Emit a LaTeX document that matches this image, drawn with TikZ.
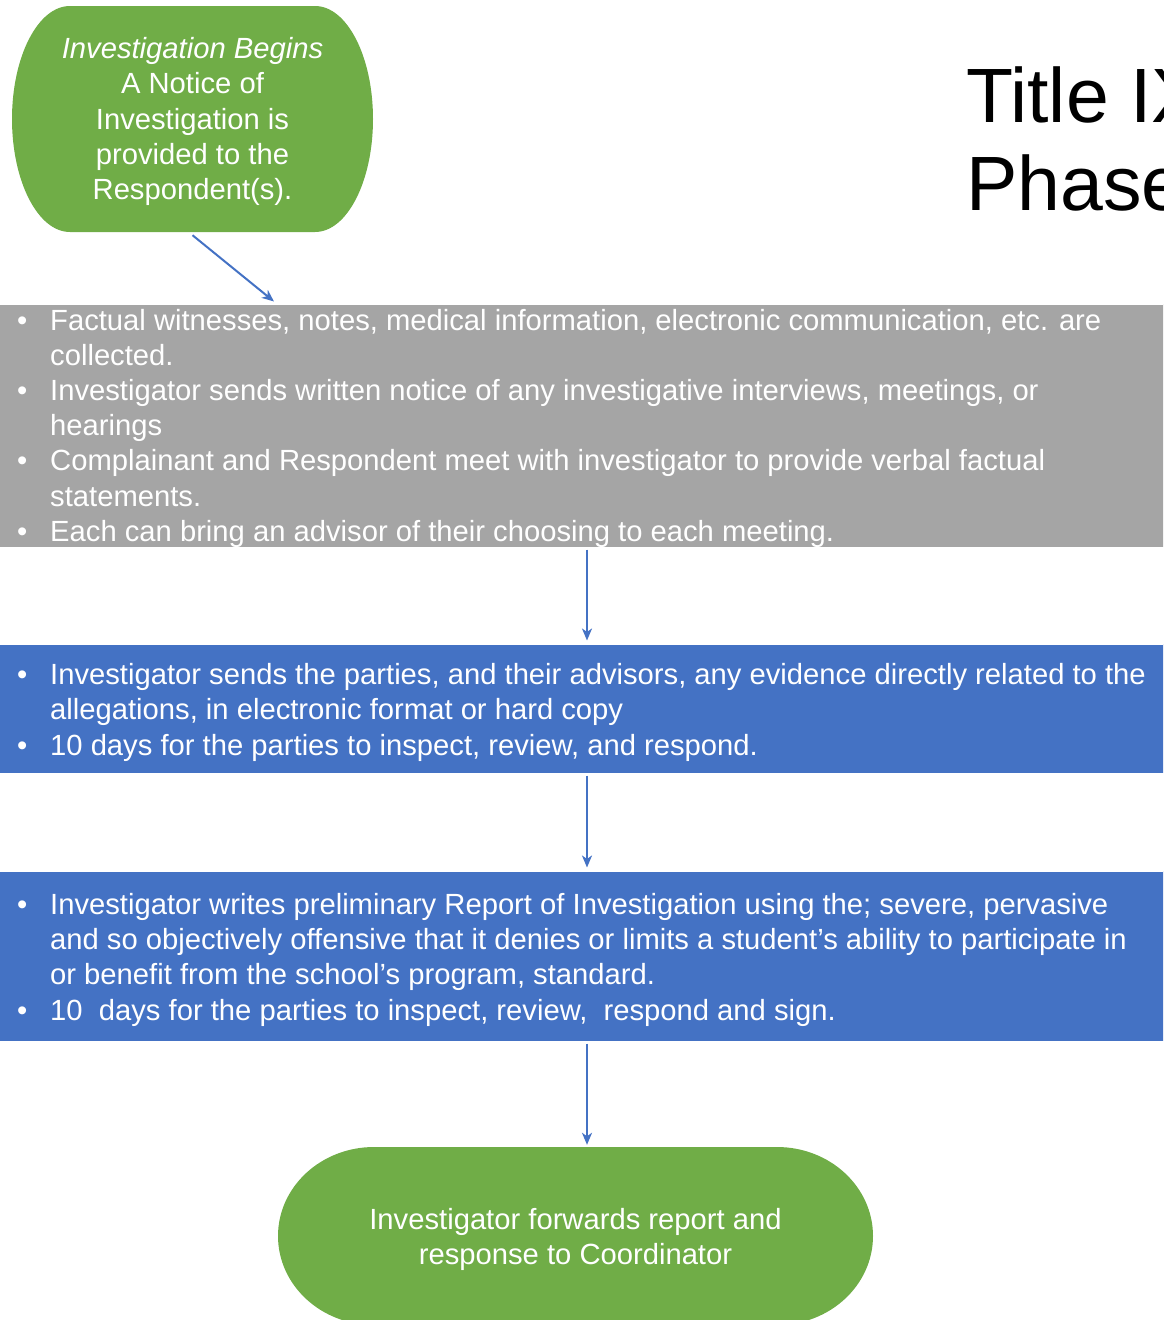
\documentclass[tikz,border=0pt]{standalone}
\usepackage{fontspec}
\setmainfont{Liberation Sans}
\usetikzlibrary{arrows.meta,calc}
\definecolor{pgreen}{HTML}{70AD47}
\definecolor{pblue}{HTML}{4472C4}
\definecolor{pgray}{HTML}{A5A5A5}
\newcommand\bodyfont{\fontsize{29.2}{35}\selectfont}
\newcommand\titlefont{\fontsize{77}{88}\selectfont}
\tikzset{
  termbox/.style n args={3}{minimum width=#1, minimum height=#2, inner sep=0pt, draw=none,
    path picture={
      \fill[pgreen] ($(path picture bounding box.north west)+(#3,0)$)
        -- ($(path picture bounding box.north east)+(-#3,0)$)
        arc[start angle=90,end angle=-90,x radius=#3 pt,y radius=0.5*#2]
        -- ($(path picture bounding box.south west)+(#3,0)$)
        arc[start angle=270,end angle=90,x radius=#3 pt,y radius=0.5*#2]
        -- cycle;}},
  band/.style={fill=#1, draw=white, line width=1pt, minimum width=1172pt, inner sep=0pt},
  ln/.style={anchor=base west, inner sep=0pt, text=white, font=\bodyfont},
  cln/.style={anchor=base, inner sep=0pt, text=white, font=\bodyfont},
  bul/.style={anchor=base west, inner sep=0pt, text=white, font=\bodyfont},
  arr/.style={draw=pblue, line width=2pt, -{Stealth[length=12pt,width=10pt,inset=3.5pt]}},
  ttl/.style={anchor=base west, inner sep=0pt, text=black, font=\titlefont}
}
\begin{document}
\begin{tikzpicture}[x=1pt,y=-1pt]
\useasboundingbox (0,0) rectangle (1163,1320);
\clip (0,0) rectangle (1163,1320);

% title
\node[ttl] (t1) at (966,122) {Title IX};
\node[ttl] (t2) at (966,210) {Phase};

% top terminator
\node[termbox={361pt}{226pt}{58}] (g1) at (192.5,119) {};
\node[cln] (g1a) at (192.5,58) {\itshape Investigation Begins};
\node[cln] (g1b) at (192.5,93) {A Notice of};
\node[cln] (g1c) at (192.5,129) {Investigation is};
\node[cln] (g1d) at (192.5,164) {provided to the};
\node[cln] (g1e) at (192.5,199) {Respondent(s).};

% gray band
\node[band=pgray, minimum height=243pt] (b1) at (584,425.5) {};
\node[bul] (b1p1) at (17,330) {•};
\node[ln] (b1l1) at (50,330) {Factual witnesses, notes, medical information, electronic communication, etc. are};
\node[ln] (b1l2) at (50,365.2) {collected.};
\node[bul] (b1p2) at (17,400.4) {•};
\node[ln] (b1l3) at (50,400.4) {Investigator sends written notice of any investigative interviews, meetings, or};
\node[ln] (b1l4) at (50,435.6) {hearings};
\node[bul] (b1p3) at (17,470.8) {•};
\node[ln] (b1l5) at (50,470.8) {Complainant and Respondent meet with investigator to provide verbal factual};
\node[ln] (b1l6) at (50,506) {statements.};
\node[bul] (b1p4) at (17,541.2) {•};
\node[ln] (b1l7) at (50,541.2) {Each can bring an advisor of their choosing to each meeting.};

% blue band 1
\node[band=pblue, minimum height=129pt] (b2) at (584,708.5) {};
\node[bul] (b2p1) at (17,684) {•};
\node[ln] (b2l1) at (50,684) {Investigator sends the parties, and their advisors, any evidence directly related to the};
\node[ln] (b2l2) at (50,719.5) {allegations, in electronic format or hard copy};
\node[bul] (b2p2) at (17,755) {•};
\node[ln] (b2l3) at (50,755) {10 days for the parties to inspect, review, and respond.};

% blue band 2
\node[band=pblue, minimum height=170pt] (b3) at (584,956) {};
\node[bul] (b3p1) at (17,914) {•};
\node[ln] (b3l1) at (50,914) {Investigator writes preliminary Report of Investigation using the; severe, pervasive};
\node[ln] (b3l2) at (50,949) {and so objectively offensive that it denies or limits a student’s ability to participate in};
\node[ln] (b3l3) at (50,984) {or benefit from the school’s program, standard.};
\node[bul] (b3p2) at (17,1020) {•};
\node[ln] (b3l4) at (50,1020) {10\ \ days for the parties to inspect, review,\ \ respond and sign.};

% bottom terminator
\node[termbox={595pt}{178pt}{96}] (g2) at (575.5,1236) {};
\node[cln] (g2a) at (575.5,1229) {Investigator forwards report and};
\node[cln] (g2b) at (575.5,1264) {response to Coordinator};

% connectors
\coordinate (a1x) at (274,0);
\coordinate (ax) at (587,0);
\draw[arr] ($(g1.south)+(0,3)$) -- ($(b1.north -| a1x)+(0,-2)$);
\draw[arr] ($(b1.south -| ax)+(0,2)$) -- ($(b2.north -| ax)+(0,-3)$);
\draw[arr] ($(b2.south -| ax)+(0,2)$) -- ($(b3.north -| ax)+(0,-3)$);
\draw[arr] ($(b3.south -| ax)+(0,2)$) -- ($(g2.north -| ax)+(0,-2)$);
\end{tikzpicture}
\end{document}
